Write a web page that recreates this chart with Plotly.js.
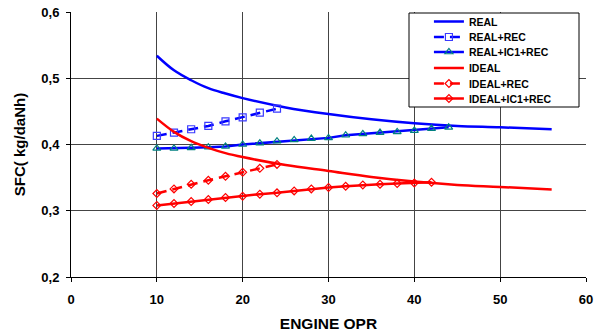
<!DOCTYPE html>
<html><head><meta charset="utf-8">
<script src="https://cdn.plot.ly/plotly-3.0.1.min.js"></script>
<style>body{margin:0;background:#fff}#g{width:601px;height:334px}</style>
</head><body><div id="g"></div>
<script>
const realX = [10, 12, 14, 16, 18, 20, 25, 30, 35, 40, 45, 50, 56];
const realY = [0.534, 0.512, 0.497, 0.485, 0.477, 0.470, 0.456, 0.446, 0.438, 0.432, 0.428, 0.426, 0.423];
const realRecX = [10, 12, 14, 16, 18, 20, 22, 24];
const realRecY = [0.413, 0.418, 0.423, 0.428, 0.435, 0.441, 0.448, 0.454];
const realIcX = [10, 12, 14, 16, 18, 20, 22, 24, 26, 28, 30, 32, 34, 36, 38, 40, 42, 44];
const realIcY = [0.394, 0.394, 0.395, 0.396, 0.397, 0.400, 0.402, 0.405, 0.407, 0.409, 0.410, 0.414, 0.416, 0.418, 0.419, 0.421, 0.424, 0.426];
const idealX = [10, 12, 14, 16, 18, 20, 25, 30, 35, 40, 45, 50, 56];
const idealY = [0.439, 0.419, 0.405, 0.395, 0.387, 0.381, 0.369, 0.360, 0.351, 0.344, 0.339, 0.336, 0.332];
const idealRecX = [10, 12, 14, 16, 18, 20, 22, 24];
const idealRecY = [0.326, 0.333, 0.340, 0.346, 0.352, 0.358, 0.364, 0.370];
const idealIcX = [10, 12, 14, 16, 18, 20, 22, 24, 26, 28, 30, 32, 34, 36, 38, 40, 42];
const idealIcY = [0.308, 0.311, 0.314, 0.317, 0.320, 0.322, 0.325, 0.327, 0.330, 0.333, 0.335, 0.337, 0.339, 0.340, 0.341, 0.342, 0.343];
const names = ["REAL", "REAL+REC", "REAL+IC1+REC", "IDEAL", "IDEAL+REC", "IDEAL+IC1+REC"];

const blue = "#0000ff", red = "#ff0000";
const traces = [
  {x: realX, y: realY, name: names[0], legend: "legend", mode: "lines", line: {color: blue, width: 2.5, shape: "spline"}},
  {x: realRecX, y: realRecY, name: names[1], legend: "legend2", mode: "lines+markers", line: {color: blue, width: 2.5, dash: "10px,6px"},
   marker: {symbol: "square-open", size: 7, color: "#3a3aff", line: {width: 1.2}}},
  {x: realIcX, y: realIcY, name: names[2], legend: "legend3", mode: "lines+markers", line: {color: blue, width: 2.5},
   marker: {symbol: "triangle-up-open", size: 7, color: "#008080", line: {width: 1.2}}},
  {x: idealX, y: idealY, name: names[3], legend: "legend4", mode: "lines", line: {color: red, width: 2.5, shape: "spline"}},
  {x: idealRecX, y: idealRecY, name: names[4], legend: "legend5", mode: "lines+markers", line: {color: red, width: 2.5, dash: "10px,6px"},
   marker: {symbol: "diamond-open", size: 6, color: red, line: {width: 1.2}}},
  {x: idealIcX, y: idealIcY, name: names[5], legend: "legend6", mode: "lines+markers", line: {color: red, width: 2.5},
   marker: {symbol: "diamond-open", size: 6, color: red, line: {width: 1.2}}}
];
const F = "Liberation Sans, Arial, sans-serif";
const T = 12, B = 57, H = 334;
const plotH = H - T - B;
const py = p => (H - B - p) / plotH;
const legY = [21.5, 37, 52, 68, 83.5, 98.5];
function leg(i) {
  return {x: 0.695, y: py(legY[i]), xanchor: "left", yanchor: "middle", bgcolor: "rgba(0,0,0,0)",
    borderwidth: 0, font: {family: F, size: 10.5, weight: "bold", color: "#000"}, itemwidth: 30};
}
const layout = {
  width: 601, height: 334,
  margin: {l: 71, r: 15, t: T, b: B, autoexpand: false},
  paper_bgcolor: "#fff", plot_bgcolor: "#fff",
  separators: ", ",
  font: {family: F, size: 11, color: "#000", weight: "bold"},
  showlegend: true,
  legend: leg(0), legend2: leg(1), legend3: leg(2), legend4: leg(3), legend5: leg(4), legend6: leg(5),
  shapes: [{type: "rect", xref: "paper", yref: "paper", x0: (409 - 71) / 515, x1: (579 - 71) / 515,
    y0: py(107), y1: py(13), fillcolor: "#fff", line: {color: "#000", width: 1}, layer: "above"}],
  xaxis: {range: [0, 60], dtick: 10, tick0: 0, showgrid: true, gridcolor: "#444", gridwidth: 1,
    automargin: false, zeroline: false, showline: true, linecolor: "#000", linewidth: 1,
    ticks: "outside", ticklen: 4, tickcolor: "#000", ticklabelstandoff: 6,
    tickfont: {family: F, size: 13, weight: "bold"},
    title: {text: "ENGINE OPR", font: {family: F, size: 15.5, weight: "bold"}, standoff: 12}},
  yaxis: {range: [0.2, 0.6], dtick: 0.1, tickformat: ".1f", showgrid: true, gridcolor: "#444", gridwidth: 1,
    automargin: false, zeroline: false, showline: true, linecolor: "#000", linewidth: 1,
    ticks: "outside", ticklen: 4, tickcolor: "#000", ticklabelstandoff: 4,
    tickfont: {family: F, size: 13, weight: "bold"},
    title: {text: "SFC( kg/daNh)", font: {family: F, size: 15, weight: "bold"}, standoff: 12}}
};
Plotly.newPlot("g", traces, layout, {staticPlot: true});
</script></body></html>
